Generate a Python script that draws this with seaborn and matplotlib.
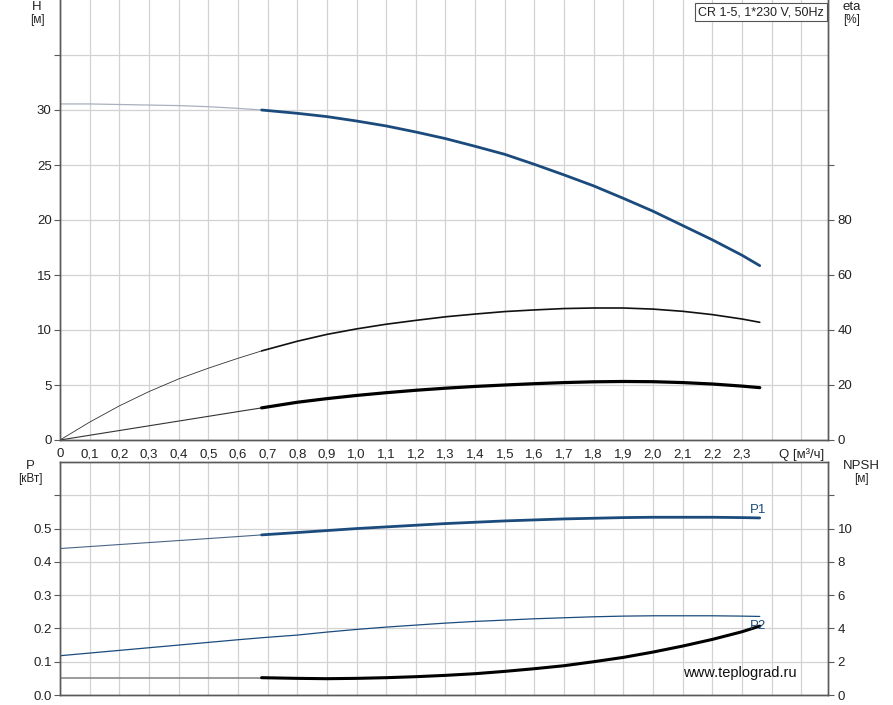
import numpy as np
import pandas as pd
import matplotlib
matplotlib.use("Agg")
import matplotlib.pyplot as plt
import seaborn as sns

# ---------------- data ----------------
Q = [0.0, 0.1, 0.2, 0.3, 0.4, 0.5, 0.6, 0.68, 0.8, 0.9, 1.0, 1.1, 1.2, 1.3,
     1.4, 1.5, 1.6, 1.7, 1.8, 1.9, 2.0, 2.1, 2.2, 2.3, 2.36]
H = [30.55, 30.55, 30.5, 30.45, 30.4, 30.3, 30.15, 30.0, 29.7, 29.4, 29.0,
     28.55, 28.0, 27.4, 26.7, 25.97, 25.06, 24.1, 23.1, 21.97, 20.8, 19.5,
     18.2, 16.8, 15.85]
eta_pump = [0, 6.5, 12.4, 17.6, 22.2, 26.1, 29.7, 32.4, 35.9, 38.4, 40.4,
            42.1, 43.5, 44.8, 45.8, 46.7, 47.3, 47.8, 48.0, 48.0, 47.6, 46.8,
            45.6, 44.0, 42.8]
eta_total = [0, 1.72, 3.44, 5.16, 6.88, 8.6, 10.32, 11.68, 13.72, 15.04,
             16.2, 17.2, 18.08, 18.84, 19.48, 20.0, 20.48, 20.88, 21.16,
             21.28, 21.2, 20.88, 20.36, 19.6, 19.04]
P1 = [0.44, 0.446, 0.452, 0.458, 0.464, 0.470, 0.476, 0.481, 0.488, 0.494,
      0.500, 0.505, 0.510, 0.515, 0.519, 0.523, 0.526, 0.529, 0.531, 0.533,
      0.534, 0.534, 0.534, 0.533, 0.532]
P2 = [0.118, 0.126, 0.134, 0.142, 0.150, 0.158, 0.166, 0.172, 0.180, 0.189,
      0.197, 0.204, 0.210, 0.216, 0.221, 0.225, 0.229, 0.232, 0.235, 0.237,
      0.238, 0.238, 0.238, 0.237, 0.236]
NPSH = [1.04, 1.04, 1.04, 1.04, 1.04, 1.04, 1.04, 1.04, 1.0, 0.98, 1.0,
        1.04, 1.1, 1.18, 1.28, 1.42, 1.58, 1.76, 2.0, 2.26, 2.58, 2.94,
        3.34, 3.8, 4.14]
Q_SPLIT = 0.68  # start of recommended range (thick line)

x_ticks = [round(0.1 * i, 1) for i in range(26)]
x_labels = ["0"] + [f"{v:.1f}".replace(".", ",") for v in x_ticks[1:24]] + ["", "Q [м³/ч]"]
h_ticks = [0, 5, 10, 15, 20, 25, 30, 35]
h_labels = ["0", "5", "10", "15", "20", "25", "30", ""]
eta_ticks = [0, 20, 40, 60, 80, 100]
eta_labels = ["0", "20", "40", "60", "80", ""]
p_ticks = [0.0, 0.1, 0.2, 0.3, 0.4, 0.5, 0.6]
p_labels = ["0.0", "0.1", "0.2", "0.3", "0.4", "0.5", ""]
npsh_ticks = [0, 2, 4, 6, 8, 10, 12]
npsh_labels = ["0", "2", "4", "6", "8", "10", ""]

df = pd.DataFrame({"Q": Q, "H": H, "eta_pump": eta_pump, "eta_total": eta_total,
                   "P1": P1, "P2": P2, "NPSH": NPSH})
thin = df[df["Q"] <= Q_SPLIT]
thick = df[df["Q"] >= Q_SPLIT]

# ---------------- style ----------------
sns.set_style("white")
plt.rcParams["font.family"] = ["Liberation Sans", "DejaVu Sans"]
plt.rcParams["font.size"] = 9.5

W, Hpx = 893, 705
fig = plt.figure(figsize=(W / 100, Hpx / 100), dpi=100)

def fx(px):
    return px / W

def fy(py):
    return 1 - py / Hpx

BLUE = "#1b4b7c"
GRID = "#d2d2d2"
SPINE = "#5a5a5a"
TXT = "#222222"

ax_top = fig.add_axes([fx(60), fy(440), fx(828) - fx(60), fy(0) - fy(440)])
ax_bot = fig.add_axes([fx(60), fy(695), fx(828) - fx(60), fy(462) - fy(695)])
ax_eta = ax_top.twinx()
ax_npsh = ax_bot.twinx()

def line(ax, data, col, color, lw):
    sns.lineplot(data=data, x="Q", y=col, ax=ax, color=color, linewidth=lw,
                 estimator=None, sort=False, legend=False)

# top: H and efficiencies
line(ax_top, thin, "H", "#a9b0bd", 0.9)
line(ax_top, thick, "H", BLUE, 2.0)
line(ax_eta, thin, "eta_pump", "#333333", 0.6)
line(ax_eta, thick, "eta_pump", "#111111", 1.2)
line(ax_eta, thin, "eta_total", "#333333", 0.8)
line(ax_eta, thick, "eta_total", "#000000", 2.3)

# bottom: power and NPSH
line(ax_bot, thin, "P1", "#4a6585", 0.8)
line(ax_bot, thick, "P1", BLUE, 2.0)
line(ax_bot, df, "P2", BLUE, 0.9)
line(ax_npsh, thin, "NPSH", "#8a8a8a", 1.2)
line(ax_npsh, thick, "NPSH", "#000000", 2.2)

xmax = 768 / 296.5
for ax in (ax_top, ax_bot):
    ax.set_xlim(0, xmax)
    ax.set_xticks(x_ticks)
    ax.grid(True, color=GRID, linewidth=0.9)
    ax.set_axisbelow(True)
    ax.set_xlabel("")
    ax.set_ylabel("")
    for s in ax.spines.values():
        s.set_color(SPINE)
        s.set_linewidth(1.0)

ax_top.set_ylim(0, 40)
ax_top.set_yticks(h_ticks)
ax_top.set_yticklabels(h_labels)
ax_top.set_xticklabels(x_labels)
ax_top.spines["top"].set_visible(False)
ax_top.tick_params(axis="both", direction="out", length=4, width=0.8,
                   color=SPINE, labelcolor=TXT, pad=2, labelsize=9.5)

ax_bot.set_ylim(0, 0.7)
ax_bot.set_yticks(p_ticks)
ax_bot.set_yticklabels(p_labels)
ax_bot.set_xticklabels([])
ax_bot.tick_params(axis="x", length=0)
ax_bot.tick_params(axis="y", direction="out", length=4, width=0.8,
                   color=SPINE, labelcolor=TXT, pad=2, labelsize=9.5)

for ax, lim, ticks, labels in ((ax_eta, 160, eta_ticks, eta_labels),
                               (ax_npsh, 14, npsh_ticks, npsh_labels)):
    ax.set_ylim(0, lim)
    ax.set_yticks(ticks)
    ax.set_yticklabels(labels)
    ax.set_ylabel("")
    ax.grid(False)
    ax.tick_params(axis="y", direction="out", length=4, width=0.8,
                   color=SPINE, labelcolor=TXT, pad=3, labelsize=9.5)
    for s in ax.spines.values():
        s.set_color(SPINE)
        s.set_linewidth(1.0)
ax_eta.spines["top"].set_visible(False)

# axis titles
fig.text(fx(37), fy(7), "H", ha="center", va="center", fontsize=9.5, color=TXT)
fig.text(fx(37), fy(20), "[м]", ha="center", va="center", fontsize=8.5, color=TXT)
fig.text(fx(852), fy(7), "eta", ha="center", va="center", fontsize=9.5, color=TXT)
fig.text(fx(852), fy(20), "[%]", ha="center", va="center", fontsize=8.5, color=TXT)
fig.text(fx(30), fy(466), "P", ha="center", va="center", fontsize=9.5, color=TXT)
fig.text(fx(30), fy(479), "[кВт]", ha="center", va="center", fontsize=8.5, color=TXT)
fig.text(fx(861), fy(466), "NPSH", ha="center", va="center", fontsize=9.5, color=TXT)
fig.text(fx(861), fy(479), "[м]", ha="center", va="center", fontsize=8.5, color=TXT)

# title box
ax_top.text(0.994, 0.986, "CR 1-5, 1*230 V, 50Hz", transform=ax_top.transAxes,
            ha="right", va="top", fontsize=9, color=TXT, zorder=10,
            bbox=dict(boxstyle="square,pad=0.25", facecolor="white",
                      edgecolor="#555555", linewidth=0.8))

# curve labels
fig.text(fx(750), fy(510), "P1", ha="left", va="center", fontsize=9.5, color=BLUE)
fig.text(fx(750), fy(626), "P2", ha="left", va="center", fontsize=9.5, color=BLUE)

# watermark
fig.text(fx(683), fy(673), "www.teplograd.ru", ha="left", va="center",
         fontsize=10.5, color="#111111")

fig.savefig("out.png", dpi=100, facecolor="white")
